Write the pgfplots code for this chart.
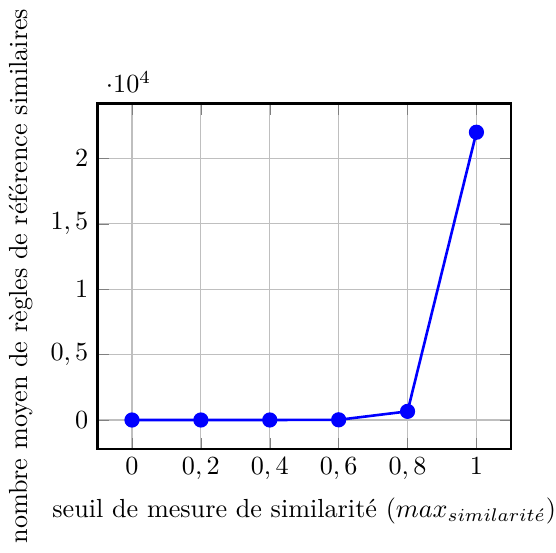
\documentclass[border=0pt]{standalone}
\usepackage{pgfplots}
\pgfplotsset{compat=1.18}
\begin{document}
\begin{tikzpicture}
\begin{axis}[
  scale only axis,
  width=158pt, height=132pt,
  xmin=-0.1, xmax=1.1,
  ymin=-2200, ymax=24200,
  xtick={0,0.2,0.4,0.6,0.8,1},
  ytick={0,5000,10000,15000,20000},
  grid=major,
  axis line style={thick},
  /pgf/number format/set decimal separator={,},
  xlabel={seuil de mesure de similarité ($max_{similarit\acute{e}}$)},
  ylabel={nombre moyen de règles de référence similaires},
  xlabel style={inner xsep=0pt},
]
\addplot[blue, line width=1pt, mark=*, mark size=2.4pt] coordinates {
  (0,0) (0.2,0) (0.4,2) (0.6,15) (0.8,660) (1,22000)
};
\end{axis}
\end{tikzpicture}
\end{document}
